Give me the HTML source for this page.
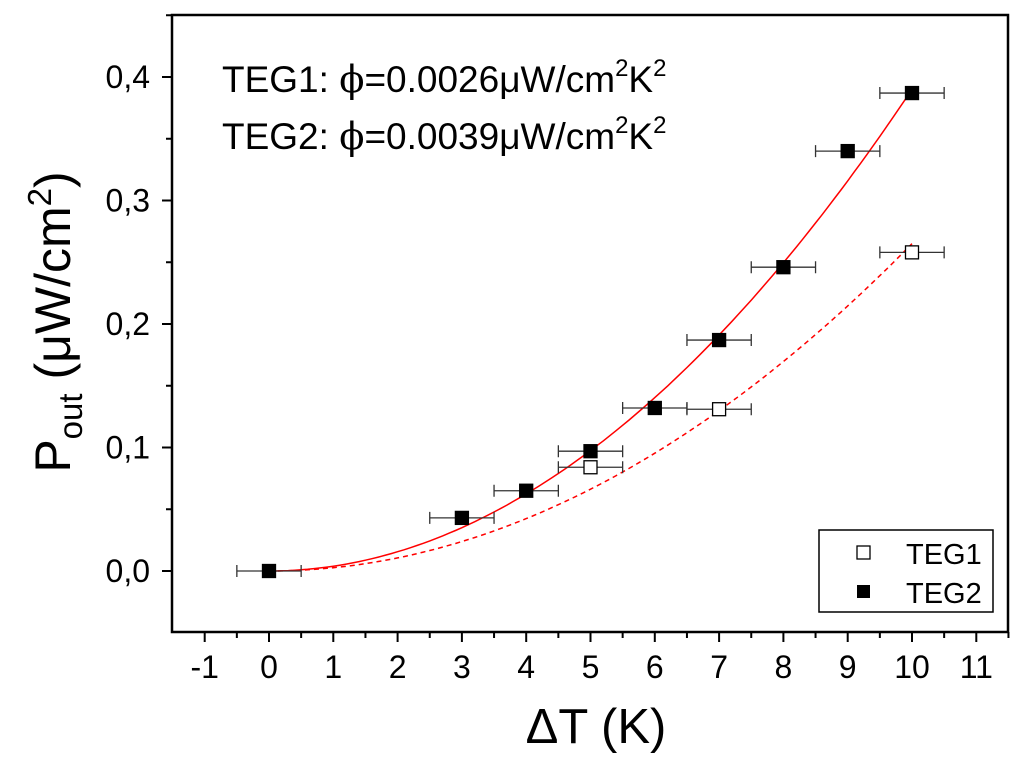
<!DOCTYPE html>
<html><head><meta charset="utf-8"><style>
body{margin:0;background:#fff}
svg{display:block;font-family:"Liberation Sans",Arial,sans-serif}
</style></head><body>
<svg id="chart" width="1024" height="764" viewBox="0 0 1024 764">
<rect x="172" y="15" width="836" height="617" fill="none" stroke="#000" stroke-width="2.5"/>
<g id="ticks"></g>
<g id="curves"></g>
<g id="marks"></g>
<text x="222" y="92" font-size="37">TEG1: <tspan font-family="DejaVu Serif,serif">ϕ</tspan>=0.0026μW/cm<tspan font-size="24" dy="-16">2</tspan><tspan dy="16">K</tspan><tspan font-size="24" dy="-16">2</tspan></text>
<text x="222" y="149" font-size="37">TEG2: <tspan font-family="DejaVu Serif,serif">ϕ</tspan>=0.0039μW/cm<tspan font-size="24" dy="-16">2</tspan><tspan dy="16">K</tspan><tspan font-size="24" dy="-16">2</tspan></text>
<text x="596" y="743" font-size="49" text-anchor="middle">ΔT (K)</text>
<text transform="translate(70,322) rotate(-90)" font-size="50" text-anchor="middle">P<tspan font-size="33" dy="12">out</tspan><tspan dy="-12"> (μW/cm</tspan><tspan font-size="33" dy="-19">2</tspan><tspan dy="19">)</tspan></text>
<g>
<rect x="819" y="530" width="174" height="82" fill="#fff" stroke="#000" stroke-width="1.5"/>
<rect x="857" y="546" width="13" height="13" fill="#fff" stroke="#000" stroke-width="1.3"/>
<text x="906" y="564" font-size="29">TEG1</text>
<rect x="857" y="585" width="13" height="13" fill="#000"/>
<text x="906" y="603" font-size="29">TEG2</text>
</g>
</svg>
<script>
const xTicks=[-1,0,1,2,3,4,5,6,7,8,9,10,11];
const yTicks=[0,0.1,0.2,0.3,0.4];
const yTickLabels=["0,0","0,1","0,2","0,3","0,4"];
const teg1X=[5,7,10];
const teg1Y=[0.084,0.131,0.258];
const teg2X=[0,3,4,5,6,7,8,9,10];
const teg2Y=[0,0.043,0.065,0.097,0.132,0.187,0.246,0.340,0.387];
const xErr=0.5;
const fitCoef=[0.00265,0.0039];
const sx=v=>269+64.3*v;
const sy=v=>571-1235*v;
const NS="http://www.w3.org/2000/svg";
function mk(tag,attrs,parent){const e=document.createElementNS(NS,tag);for(const k in attrs)e.setAttribute(k,attrs[k]);parent.appendChild(e);return e;}
const tg=document.getElementById('ticks');
xTicks.forEach(v=>{
  const l=mk('line',{x1:sx(v),x2:sx(v),y1:632,y2:642,stroke:'#000','stroke-width':2},tg);
  
  
  const m=mk('line',{x1:sx(v+0.5),x2:sx(v+0.5),y1:632,y2:638,stroke:'#000','stroke-width':2},tg);
  
  
  const t=mk('text',{x:sx(v),y:678,'font-size':32,'text-anchor':'middle'},tg);
  t.textContent=String(v);
  
  
});
yTicks.forEach((v,i)=>{
  const l=mk('line',{x1:162,x2:172,y1:sy(v),y2:sy(v),stroke:'#000','stroke-width':2},tg);
  
  
  const m=mk('line',{x1:166,x2:172,y1:sy(v+0.05),y2:sy(v+0.05),stroke:'#000','stroke-width':2},tg);
  
  
  const t=mk('text',{x:150,y:sy(v)+11,'font-size':32,'text-anchor':'end'},tg);
  t.textContent=yTickLabels[i];
  
  
});
const cg=document.getElementById('curves');
fitCoef.forEach((a,i)=>{
  let d='';
  for(let k=0;k<=100;k++){const x=k/10;d+=(k?'L':'M')+sx(x).toFixed(1)+','+sy(a*x*x).toFixed(1);}
  const p=mk('path',{d:d,fill:'none',stroke:'#f00','stroke-width':1.5},cg);
  if(i===0)p.setAttribute('stroke-dasharray','5,4');
  
  
});
const mg=document.getElementById('marks');
function series(X,Y,filled,name){
  X.forEach((x,i)=>{
    const y=sy(Y[i]);
    const e=mk('path',{d:`M${sx(x-xErr)},${y}H${sx(x+xErr)}M${sx(x-xErr)},${y-6}v12M${sx(x+xErr)},${y-6}v12`,stroke:'#333','stroke-width':1.3,fill:'none'},mg);
    
    
    const r=mk('rect',{x:sx(x)-6.5,y:y-6.5,width:13,height:13,fill:filled?'#000':'#fff',stroke:'#000','stroke-width':1.3},mg);
    
    
  });
}
series(teg1X,teg1Y,false,'teg1');
series(teg2X,teg2Y,true,'teg2');
</script>
</body></html>
